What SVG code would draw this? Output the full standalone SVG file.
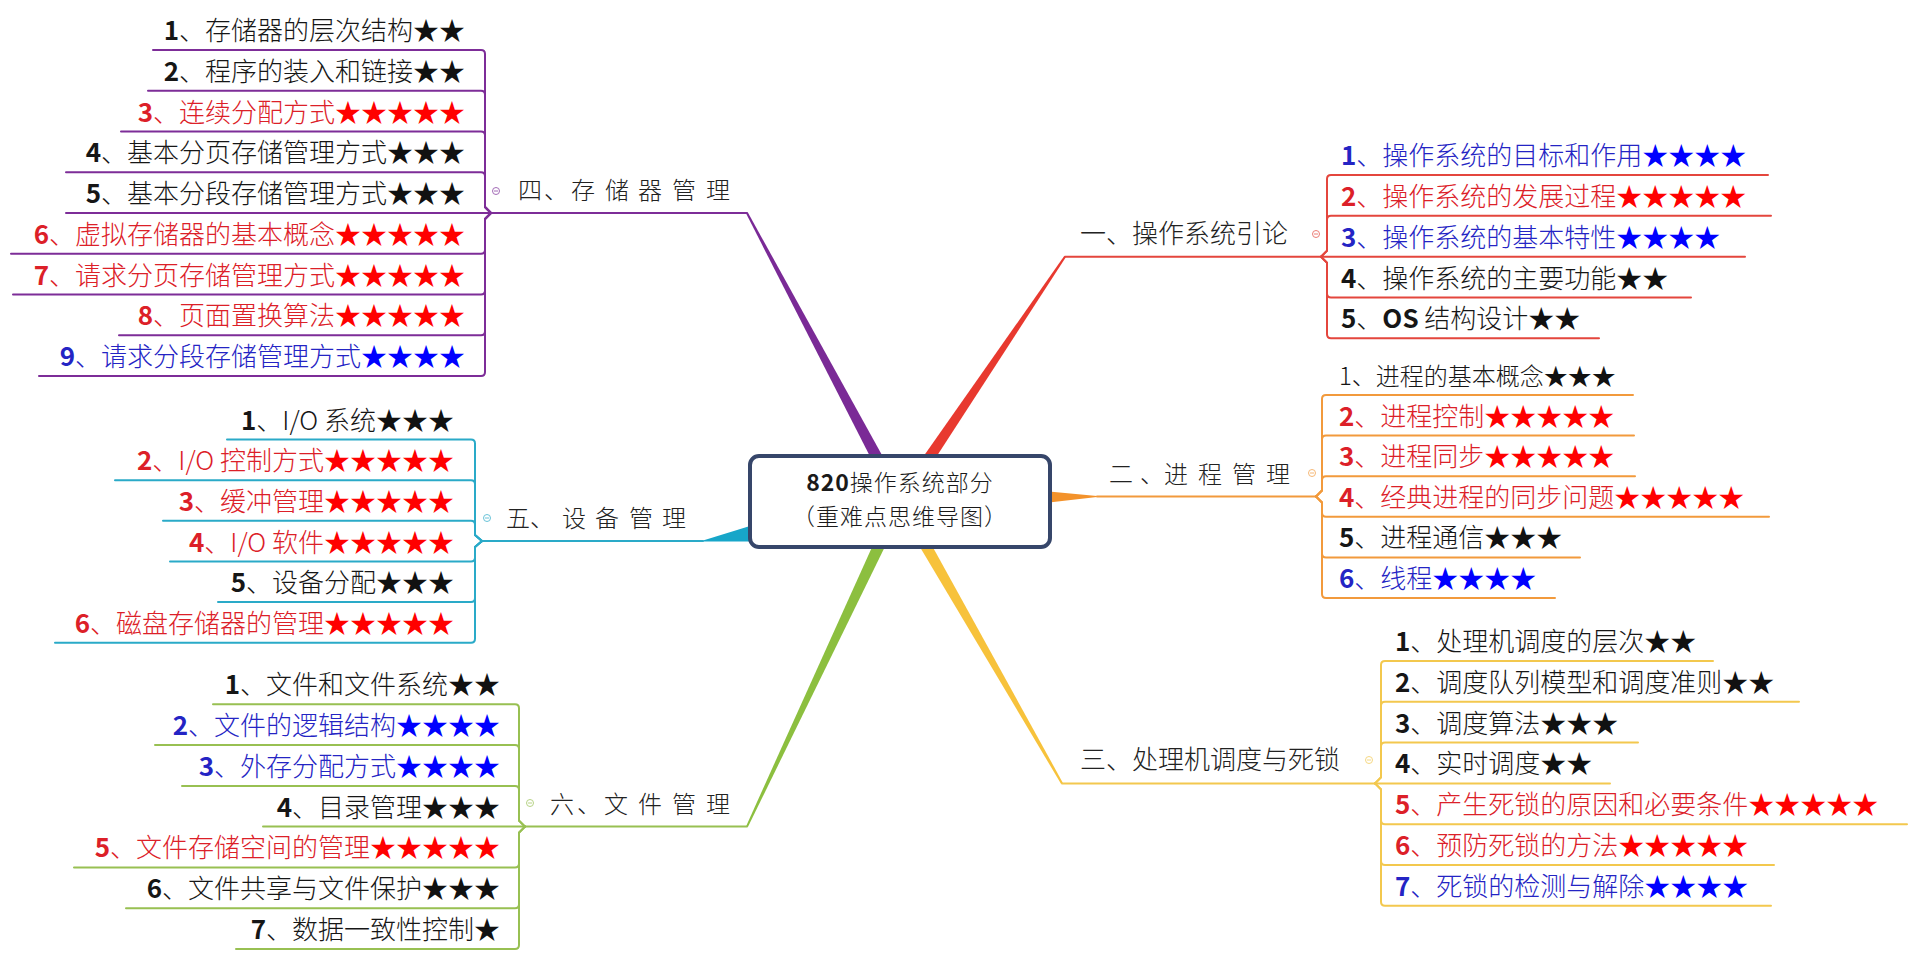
<svg xmlns="http://www.w3.org/2000/svg" width="1920" height="961" viewBox="0 0 1920 961">
  <style>
    text { font-family: "Noto Sans CJK SC", "Noto Sans", sans-serif; font-weight: 300; }
    .it { font-size: 26px; fill: #161616; }
    .it.end { text-anchor: end; }
    .it.sm { font-size: 24px; }
    .red { fill: #dc2028; }
    .blue { fill: #2424c4; }
    .n { font-weight: 700; }
    .sr { fill: #ff0000; }
    .sb { fill: #0000ff; }
    .sk { fill: #111111; }
    .lbl { font-size: 26px; fill: #222222; }
    .lbls { font-size: 24px; fill: #222222; }
    .root { font-size: 23px; fill: #1a1a1a; text-anchor: middle; }
    .ln { fill: none; stroke-width: 2; stroke-linejoin: round; stroke-linecap: round; }
    .c1 { stroke: #e4463d; } .f1 { fill: #e8392f; }
    .c2 { stroke: #f29a3c; } .f2 { fill: #f3922b; }
    .c3 { stroke: #f3c84e; } .f3 { fill: #f7c23b; }
    .c4 { stroke: #7d2d98; } .f4 { fill: #7a2a96; }
    .c5 { stroke: #2aaac8; } .f5 { fill: #17a6c9; }
    .c6 { stroke: #98c052; } .f6 { fill: #8cbf3f; }
    .mk { fill: #ffffff; stroke-width: 1; opacity: 0.7; }
  </style>

  <rect width="1920" height="961" fill="#ffffff"/>

  <!-- connectors: tapered main branches, label underlines and child brackets -->
  <g id="connectors">
    <!-- main branches (tapered wedges from the root) -->
    <polygon class="f4" points="905.7,498 747.9,212.5 746.1,213.5 894.3,504.1"/>
    <polygon class="f1" points="905.4,504.6 1065.8,257.3 1064.2,256.1 894.6,497.4"/>
    <polygon class="f3" points="905.6,497.8 1062.9,782.9 1061.1,783.9 894.4,504.2"/>
    <polygon class="f6" points="905.9,503.8 747.9,827 746.1,826.2 894.1,498.2"/>
    <polygon class="f2" points="1000,491.5 1049,491.5 1097,496 1097,497 1049,502.5 1000,502.5"/>
    <polygon class="f5" points="703,540.6 750,526 800,520 800,541.6 750,541.6 703,541.6"/>

    <!-- label underlines -->
    <path class="ln c4" d="M747,213 L491,213"/>
    <path class="ln c1" d="M1065,256.7 L1321,256.7"/>
    <path class="ln c3" d="M1062,783.4 L1375,783.4"/>
    <path class="ln c6" d="M747,826.6 L525,826.6"/>
    <path class="ln c2" d="M1097,496.5 L1316,496.5"/>
    <path class="ln c5" d="M703,541.1 L482,541.1"/>

    <!-- 四 children -->
    <g class="ln c4">
      <path d="M491,213 L485,207 L485,54 Q485,50 481,50 L153,50"/>
      <path d="M491,213 L485,207 L485,94.75 Q485,90.75 481,90.75 L148,90.75"/>
      <path d="M491,213 L485,207 L485,135.5 Q485,131.5 481,131.5 L121,131.5"/>
      <path d="M491,213 L485,207 L485,176.25 Q485,172.25 481,172.25 L66,172.25"/>
      <path d="M491,213 L66,213"/>
      <path d="M491,213 L485,219 L485,249.75 Q485,253.75 481,253.75 L11,253.75"/>
      <path d="M491,213 L485,219 L485,290.5 Q485,294.5 481,294.5 L13,294.5"/>
      <path d="M491,213 L485,219 L485,331.25 Q485,335.25 481,335.25 L119,335.25"/>
      <path d="M491,213 L485,219 L485,372 Q485,376 481,376 L39,376"/>
    </g>

    <!-- 五 children -->
    <g class="ln c5">
      <path d="M482,541.1 L475,535 L475,443.5 Q475,439.5 471,439.5 L227,439.5"/>
      <path d="M482,541.1 L475,535 L475,484.2 Q475,480.2 471,480.2 L115,480.2"/>
      <path d="M482,541.1 L475,535 L475,524.8 Q475,520.8 471,520.8 L163,520.8"/>
      <path d="M482,541.1 L475,547 L475,557.5 Q475,561.5 471,561.5 L170,561.5"/>
      <path d="M482,541.1 L475,547 L475,598.1 Q475,602.1 471,602.1 L218,602.1"/>
      <path d="M482,541.1 L475,547 L475,638.8 Q475,642.8 471,642.8 L55,642.8"/>
    </g>

    <!-- 六 children -->
    <g class="ln c6">
      <path d="M525,826.6 L519,820.6 L519,708.3 Q519,704.3 515,704.3 L213,704.3"/>
      <path d="M525,826.6 L519,820.6 L519,749.1 Q519,745.1 515,745.1 L155,745.1"/>
      <path d="M525,826.6 L519,820.6 L519,789.9 Q519,785.9 515,785.9 L182,785.9"/>
      <path d="M525,826.6 L263,826.6"/>
      <path d="M525,826.6 L519,832.6 L519,863.4 Q519,867.4 515,867.4 L74,867.4"/>
      <path d="M525,826.6 L519,832.6 L519,904.2 Q519,908.2 515,908.2 L126,908.2"/>
      <path d="M525,826.6 L519,832.6 L519,945 Q519,949 515,949 L236,949"/>
    </g>

    <!-- 一 children -->
    <g class="ln c1">
      <path d="M1321,256.7 L1327,250.7 L1327,179 Q1327,175 1331,175 L1768,175"/>
      <path d="M1321,256.7 L1327,250.7 L1327,219.8 Q1327,215.8 1331,215.8 L1771,215.8"/>
      <path d="M1321,256.7 L1745,256.7"/>
      <path d="M1321,256.7 L1327,262.7 L1327,293.5 Q1327,297.5 1331,297.5 L1691,297.5"/>
      <path d="M1321,256.7 L1327,262.7 L1327,334.3 Q1327,338.3 1331,338.3 L1599,338.3"/>
    </g>

    <!-- 二 children -->
    <g class="ln c2">
      <path d="M1316,496.5 L1322,490.5 L1322,399 Q1322,395 1326,395 L1633,395"/>
      <path d="M1316,496.5 L1322,490.5 L1322,439.6 Q1322,435.6 1326,435.6 L1634,435.6"/>
      <path d="M1316,496.5 L1322,490.5 L1322,480.2 Q1322,476.2 1326,476.2 L1635,476.2"/>
      <path d="M1316,496.5 L1322,502.5 L1322,512.8 Q1322,516.8 1326,516.8 L1769,516.8"/>
      <path d="M1316,496.5 L1322,502.5 L1322,553.4 Q1322,557.4 1326,557.4 L1580,557.4"/>
      <path d="M1316,496.5 L1322,502.5 L1322,594 Q1322,598 1326,598 L1555,598"/>
    </g>

    <!-- 三 children -->
    <g class="ln c3">
      <path d="M1375,783.4 L1381,777.4 L1381,665 Q1381,661 1385,661 L1713,661"/>
      <path d="M1375,783.4 L1381,777.4 L1381,705.8 Q1381,701.8 1385,701.8 L1799,701.8"/>
      <path d="M1375,783.4 L1381,777.4 L1381,746.6 Q1381,742.6 1385,742.6 L1638,742.6"/>
      <path d="M1375,783.4 L1610,783.4"/>
      <path d="M1375,783.4 L1381,789.4 L1381,820.2 Q1381,824.2 1385,824.2 L1907,824.2"/>
      <path d="M1375,783.4 L1381,789.4 L1381,861 Q1381,865 1385,865 L1774,865"/>
      <path d="M1375,783.4 L1381,789.4 L1381,901.8 Q1381,905.8 1385,905.8 L1771,905.8"/>
    </g>
  </g>

  <!-- root topic -->
  <g id="root">
    <rect x="750" y="456" width="300" height="91" rx="9" fill="#ffffff" stroke="#36466a" stroke-width="4"/>
    <text class="root" x="900" y="491" letter-spacing="1"><tspan class="n">820</tspan>操作系统部分</text>
    <text class="root" x="900" y="525" letter-spacing="1">（重难点思维导图）</text>
  </g>

  <!-- 一、操作系统引论 -->
  <g id="topic-1">
    <text class="lbl" x="1080" y="243">一、操作系统引论</text>
    <circle class="mk c1" cx="1316" cy="234" r="3.5"/><path class="c1" stroke-width="1" d="M1314,234 H1318" opacity="0.7"/>
    <text class="it blue" x="1341" y="165"><tspan class="n">1</tspan>、操作系统的目标和作用<tspan class="sb">★★★★</tspan></text>
    <text class="it red" x="1341" y="205.8"><tspan class="n">2</tspan>、操作系统的发展过程<tspan class="sr">★★★★★</tspan></text>
    <text class="it blue" x="1341" y="246.7"><tspan class="n">3</tspan>、操作系统的基本特性<tspan class="sb">★★★★</tspan></text>
    <text class="it" x="1341" y="287.5"><tspan class="n">4</tspan>、操作系统的主要功能<tspan class="sk">★★</tspan></text>
    <text class="it" x="1341" y="328.3"><tspan class="n">5</tspan>、<tspan class="n">OS</tspan> 结构设计<tspan class="sk">★★</tspan></text>
  </g>

  <!-- 二、进程管理 -->
  <g id="topic-2">
    <text class="lbls" x="1109 1140 1164 1198 1232 1266" y="483">二、进程管理</text>
    <circle class="mk c2" cx="1312" cy="473" r="3.5"/><path class="c2" stroke-width="1" d="M1310,473 H1314" opacity="0.7"/>
    <text class="it sm" x="1339" y="385">1、进程的基本概念<tspan class="sk">★★★</tspan></text>
    <text class="it red" x="1339" y="425.6"><tspan class="n">2</tspan>、进程控制<tspan class="sr">★★★★★</tspan></text>
    <text class="it red" x="1339" y="466.2"><tspan class="n">3</tspan>、进程同步<tspan class="sr">★★★★★</tspan></text>
    <text class="it red" x="1339" y="506.8"><tspan class="n">4</tspan>、经典进程的同步问题<tspan class="sr">★★★★★</tspan></text>
    <text class="it" x="1339" y="547.4"><tspan class="n">5</tspan>、进程通信<tspan class="sk">★★★</tspan></text>
    <text class="it blue" x="1339" y="588"><tspan class="n">6</tspan>、线程<tspan class="sb">★★★★</tspan></text>
  </g>

  <!-- 三、处理机调度与死锁 -->
  <g id="topic-3">
    <text class="lbl" x="1080" y="769">三、处理机调度与死锁</text>
    <circle class="mk c3" cx="1369" cy="760" r="3.5"/><path class="c3" stroke-width="1" d="M1367,760 H1371" opacity="0.7"/>
    <text class="it" x="1395" y="651"><tspan class="n">1</tspan>、处理机调度的层次<tspan class="sk">★★</tspan></text>
    <text class="it" x="1395" y="691.8"><tspan class="n">2</tspan>、调度队列模型和调度准则<tspan class="sk">★★</tspan></text>
    <text class="it" x="1395" y="732.6"><tspan class="n">3</tspan>、调度算法<tspan class="sk">★★★</tspan></text>
    <text class="it" x="1395" y="773.4"><tspan class="n">4</tspan>、实时调度<tspan class="sk">★★</tspan></text>
    <text class="it red" x="1395" y="814.2"><tspan class="n">5</tspan>、产生死锁的原因和必要条件<tspan class="sr">★★★★★</tspan></text>
    <text class="it red" x="1395" y="855"><tspan class="n">6</tspan>、预防死锁的方法<tspan class="sr">★★★★★</tspan></text>
    <text class="it blue" x="1395" y="895.8"><tspan class="n">7</tspan>、死锁的检测与解除<tspan class="sb">★★★★</tspan></text>
  </g>

  <!-- 四、存储器管理 -->
  <g id="topic-4">
    <text class="lbls" x="518 544 571 605 638 672 706" y="199">四、存储器管理</text>
    <circle class="mk c4" cx="496" cy="191" r="3.5"/><path class="c4" stroke-width="1" d="M494,191 H498" opacity="0.7"/>
    <text class="it end" x="465" y="40"><tspan class="n">1</tspan>、存储器的层次结构<tspan class="sk">★★</tspan></text>
    <text class="it end" x="465" y="80.75"><tspan class="n">2</tspan>、程序的装入和链接<tspan class="sk">★★</tspan></text>
    <text class="it end red" x="465" y="121.5"><tspan class="n">3</tspan>、连续分配方式<tspan class="sr">★★★★★</tspan></text>
    <text class="it end" x="465" y="162.25"><tspan class="n">4</tspan>、基本分页存储管理方式<tspan class="sk">★★★</tspan></text>
    <text class="it end" x="465" y="203"><tspan class="n">5</tspan>、基本分段存储管理方式<tspan class="sk">★★★</tspan></text>
    <text class="it end red" x="465" y="243.75"><tspan class="n">6</tspan>、虚拟存储器的基本概念<tspan class="sr">★★★★★</tspan></text>
    <text class="it end red" x="465" y="284.5"><tspan class="n">7</tspan>、请求分页存储管理方式<tspan class="sr">★★★★★</tspan></text>
    <text class="it end red" x="465" y="325.25"><tspan class="n">8</tspan>、页面置换算法<tspan class="sr">★★★★★</tspan></text>
    <text class="it end blue" x="465" y="366"><tspan class="n">9</tspan>、请求分段存储管理方式<tspan class="sb">★★★★</tspan></text>
  </g>

  <!-- 五、设备管理 -->
  <g id="topic-5">
    <text class="lbls" x="506 530 562 595 629 662" y="527">五、设备管理</text>
    <circle class="mk c5" cx="487" cy="518" r="3.5"/><path class="c5" stroke-width="1" d="M485,518 H489" opacity="0.7"/>
    <text class="it end" x="454" y="429.5"><tspan class="n">1</tspan>、I/O 系统<tspan class="sk">★★★</tspan></text>
    <text class="it end red" x="454" y="470.2"><tspan class="n">2</tspan>、I/O 控制方式<tspan class="sr">★★★★★</tspan></text>
    <text class="it end red" x="454" y="510.8"><tspan class="n">3</tspan>、缓冲管理<tspan class="sr">★★★★★</tspan></text>
    <text class="it end red" x="454" y="551.5"><tspan class="n">4</tspan>、I/O 软件<tspan class="sr">★★★★★</tspan></text>
    <text class="it end" x="454" y="592.1"><tspan class="n">5</tspan>、设备分配<tspan class="sk">★★★</tspan></text>
    <text class="it end red" x="454" y="632.8"><tspan class="n">6</tspan>、磁盘存储器的管理<tspan class="sr">★★★★★</tspan></text>
  </g>

  <!-- 六、文件管理 -->
  <g id="topic-6">
    <text class="lbls" x="550 577 604 638 672 706" y="813">六、文件管理</text>
    <circle class="mk c6" cx="530" cy="803" r="3.5"/><path class="c6" stroke-width="1" d="M528,803 H532" opacity="0.7"/>
    <text class="it end" x="500" y="694.3"><tspan class="n">1</tspan>、文件和文件系统<tspan class="sk">★★</tspan></text>
    <text class="it end blue" x="500" y="735.1"><tspan class="n">2</tspan>、文件的逻辑结构<tspan class="sb">★★★★</tspan></text>
    <text class="it end blue" x="500" y="775.9"><tspan class="n">3</tspan>、外存分配方式<tspan class="sb">★★★★</tspan></text>
    <text class="it end" x="500" y="816.6"><tspan class="n">4</tspan>、目录管理<tspan class="sk">★★★</tspan></text>
    <text class="it end red" x="500" y="857.4"><tspan class="n">5</tspan>、文件存储空间的管理<tspan class="sr">★★★★★</tspan></text>
    <text class="it end" x="500" y="898.2"><tspan class="n">6</tspan>、文件共享与文件保护<tspan class="sk">★★★</tspan></text>
    <text class="it end" x="500" y="939"><tspan class="n">7</tspan>、数据一致性控制<tspan class="sk">★</tspan></text>
  </g>
</svg>
